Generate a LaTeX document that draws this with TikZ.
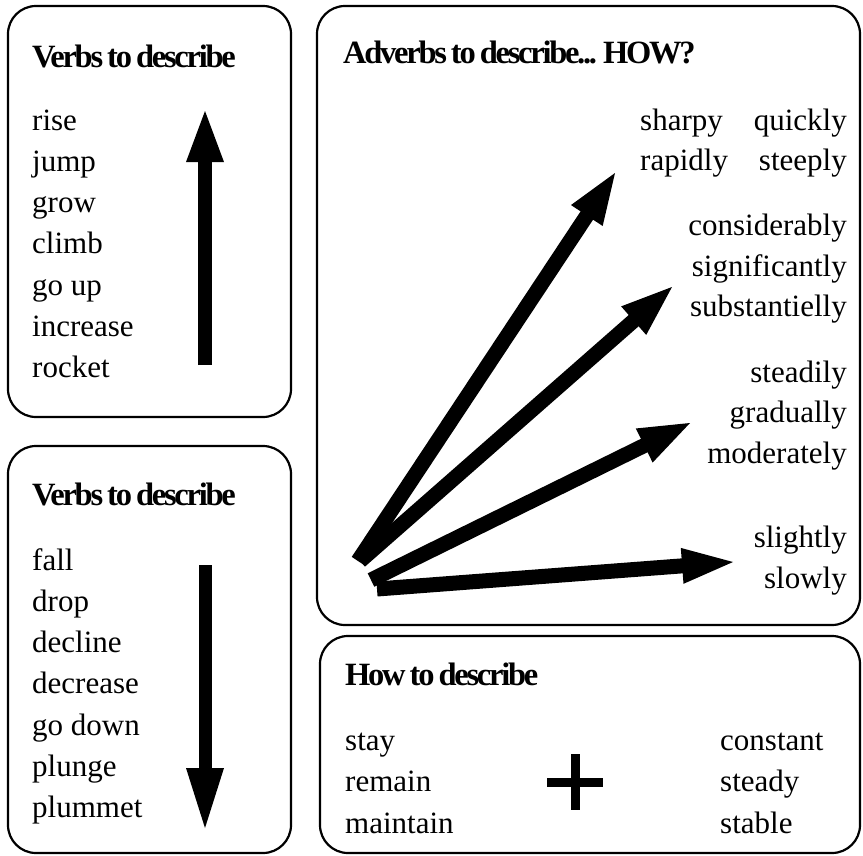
\documentclass[tikz,border=0pt]{standalone}
\usepackage{fontspec}
\setmainfont{Liberation Serif}
\newfontfamily\headfont{Liberation Serif}[LetterSpace=-7.0,WordSpace=0.7]
\usetikzlibrary{calc}

% thick arrow: name, tail, tip, head length, head half-width, shaft width
\newcommand\fatarrow[6]{%
  \coordinate (#1-t) at (#2);
  \coordinate (#1-p) at (#3);
  \coordinate (#1-b) at ($(#1-p)!#4!(#1-t)$);
  \draw[line width=#6] (#1-t) -- ($(#1-b)!2pt!(#1-p)$);
  \fill (#1-p) -- ($(#1-b)!#5!90:(#1-p)$) -- ($(#1-b)!#5!-90:(#1-p)$) -- cycle;
}

\begin{document}
\begin{tikzpicture}[x=1pt,y=-1pt,
  panel/.style={draw=black,line width=2.2pt,rounded corners=28pt},
  word/.style={anchor=base west,inner sep=0pt,font=\fontsize{31}{38}\selectfont},
  wordr/.style={anchor=base east,inner sep=0pt,font=\fontsize{31}{38}\selectfont},
  head/.style={anchor=base west,inner sep=0pt,font=\headfont\bfseries\fontsize{32.5}{38}\selectfont}]
\useasboundingbox (0,0) rectangle (863,855);

% panels
\draw[panel] (8,6) rectangle (291,417);
\draw[panel] (8,446) rectangle (291,853);
\draw[panel] (317,6) rectangle (860,625);
\draw[panel] (320,636) rectangle (860,853);

% rising verbs
\node[head] (uptitle) at (32,67) {Verbs to describe};
\foreach \w [count=\i] in {rise,jump,grow,climb,go up,increase,rocket}
  \node[word] (up\i) at (32,{130+(\i-1)*41.3}) {\w};
\fatarrow{uparrow}{205,365}{205,111}{51pt}{19pt}{14pt}

% falling verbs
\node[head] (downtitle) at (32,505) {Verbs to describe};
\foreach \w [count=\i] in {fall,drop,decline,decrease,go down,plunge,plummet}
  \node[word] (down\i) at (32,{570+(\i-1)*41.3}) {\w};
\fatarrow{downarrow}{205,565}{205,828}{60pt}{19pt}{13pt}

% adverbs
\node[head] (advtitle) at (343,63) {Adverbs to describe... HOW?};
\node[word]  (sharpy)  at (640,130) {sharpy};
\node[wordr] (quickly) at (847,130) {quickly};
\node[word]  (rapidly) at (640,170) {rapidly};
\node[wordr] (steeply) at (847,170) {steeply};
\node[wordr] (consid)  at (847,235) {considerably};
\node[wordr] (signif)  at (847,276) {significantly};
\node[wordr] (subst)   at (847,316) {substantielly};
\node[wordr] (steadily) at (847,382) {steadily};
\node[wordr] (gradual) at (847,422) {gradually};
\node[wordr] (moder)   at (847,463) {moderately};
\node[wordr] (slightly) at (847,547) {slightly};
\node[wordr] (slowly)  at (847,588) {slowly};

\fatarrow{fastarrow}{358,561}{615,173}{51pt}{19pt}{15pt}
\fatarrow{bigarrow}{360,561}{672,287}{51pt}{19pt}{15pt}
\fatarrow{steadyarrow}{371,580}{690,423}{51pt}{19pt}{15pt}
\fatarrow{slowarrow}{377,589}{733,562}{51pt}{18pt}{15pt}

% staying the same
\node[head] (howtitle) at (345,685) {How to describe};
\foreach \w/\v [count=\i] in {stay/constant,remain/steady,maintain/stable}{
  \node[word] (verb\i) at (345,{750+(\i-1)*41.5}) {\w};
  \node[word] (adj\i) at (720,{750+(\i-1)*41.5}) {\v};
}
\coordinate (plus) at (575,782);
\draw[line width=9pt] ($(plus)+(-28,0)$) -- ($(plus)+(28,0)$)
                      ($(plus)+(0,-28)$) -- ($(plus)+(0,28)$);
\end{tikzpicture}
\end{document}
